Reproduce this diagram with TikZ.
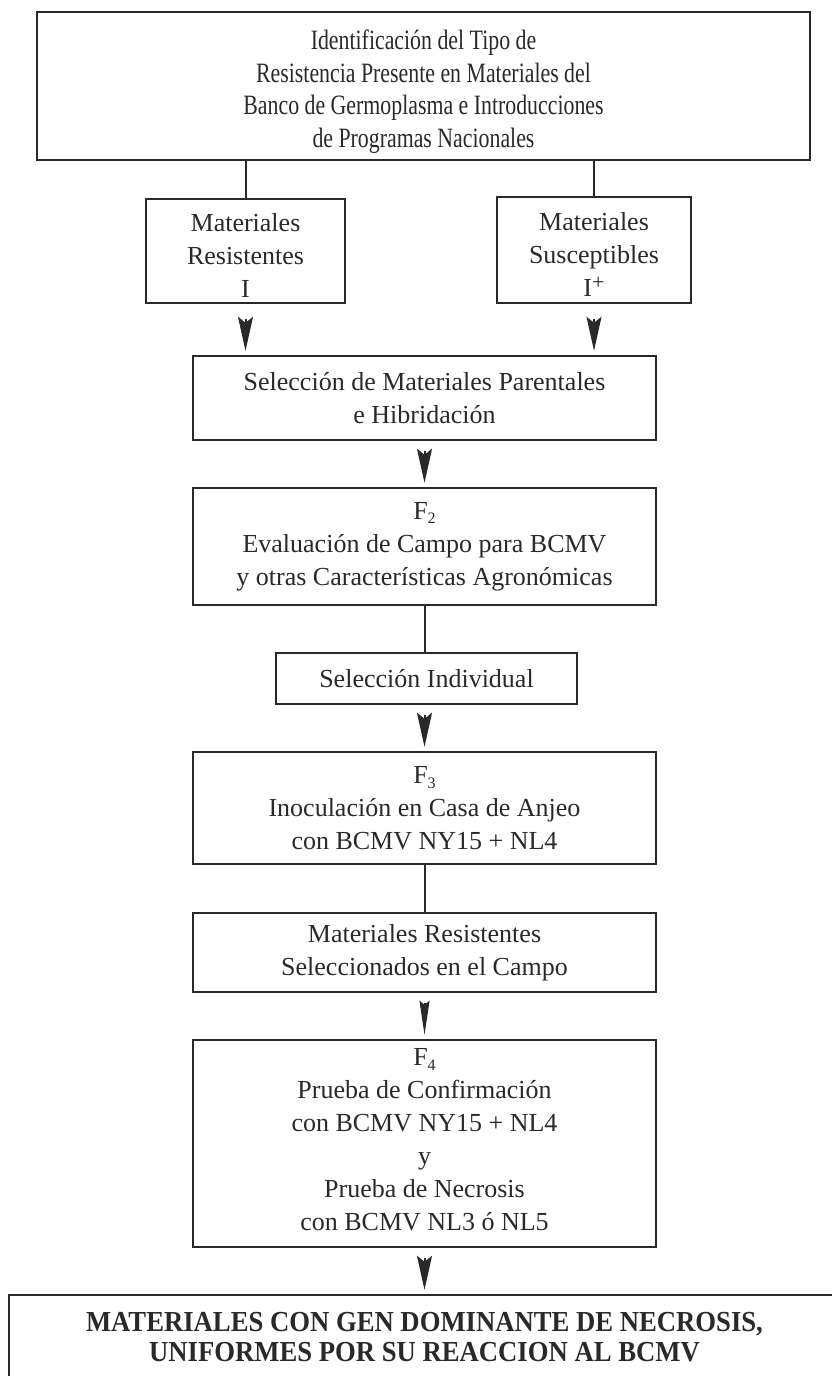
\documentclass[tikz,border=0pt]{standalone}
\usepackage{fontspec}
\setmainfont{Liberation Serif}
\newfontfamily\condfont[FakeStretch=0.78]{Liberation Serif}
\newfontfamily\condbold[FakeStretch=0.92]{Liberation Serif Bold}
\usetikzlibrary{arrows.meta}
\definecolor{ink}{rgb}{0.16,0.16,0.16}
\newcommand{\sub}[1]{\raisebox{-0.4ex}{\fontsize{8}{8}\selectfont #1}}
\newcommand{\sups}[1]{\raisebox{0.55ex}{\fontsize{11}{11}\selectfont #1}}
\begin{document}
\begin{tikzpicture}[x=0.5pt,y=-0.5pt,
  box/.style={draw=ink, line width=1.2pt, inner sep=0pt, align=center, text=ink,
    font=\fontsize{13}{16.5}\selectfont},
  txt/.style={inner sep=0pt, align=center, text=ink, font=\fontsize{13}{16.5}\selectfont},
  dims/.style 2 args={minimum width=#1*0.5pt, minimum height=#2*0.5pt},
  conn/.style={draw=ink, line width=1pt},
  arr/.style={draw=ink, line width=1pt, shorten >=2pt, shorten <=4.7pt,
    -{Stealth[length=17pt, width=7.5pt, inset=3pt]}, fill=ink}
]
\useasboundingbox (0,0) rectangle (831,1376);

\node[box, dims={773}{148}] (top) at (423.5,86) {};
\node[txt, font=\condfont\fontsize{14}{16.3}\selectfont] (toptext) at (423.5,91.5)
  {Identificación del Tipo de\\Resistencia Presente en Materiales del\\Banco de Germoplasma e Introducciones\\de Programas Nacionales};

\node[box, dims={199}{104}] (res) at (245.5,251) {};
\node[txt] (restext) at (245.5,255) {Materiales\\Resistentes\\I};
\node[box, dims={194}{106}] (sus) at (594,250) {};
\node[txt] (sustext) at (594,254) {Materiales\\Susceptibles\\I\sups{+}};

\node[box, dims={463}{84}] (sel) at (424.5,398) {Selección de Materiales Parentales\\e Hibridación};

\node[box, dims={463}{117}] (ftwo) at (424.5,546.5)
  {F\sub{2}\\Evaluación de Campo para BCMV\\y otras Características Agronómicas};

\node[box, dims={301}{51}] (ind) at (426.5,678.5) {Selección Individual};

\node[box, dims={463}{112}] (fthree) at (424.5,808)
  {F\sub{3}\\Inoculación en Casa de Anjeo\\con BCMV NY15 + NL4};

\node[box, dims={463}{79}] (camp) at (424.5,952.5)
  {Materiales Resistentes\\Seleccionados en el Campo};

\node[box, dims={463}{207}] (ffour) at (424.5,1143.5) {};
\node[txt] (ffourtext) at (424.5,1139.5)
  {F\sub{4}\\Prueba de Confirmación\\con BCMV NY15 + NL4\\y\\Prueba de Necrosis\\con BCMV NL3 ó NL5};

\node[box, dims={831}{84}, font=\condbold\fontsize{14.5}{15}\selectfont] (fin) at (424.5,1337)
  {MATERIALES CON GEN DOMINANTE DE NECROSIS,\\UNIFORMES POR SU REACCION AL BCMV};

% connectors
\draw[conn] (res.north |- top.south) -- (res.north);
\draw[conn] (sus.north |- top.south) -- (sus.north);
\draw[arr, shorten <=7.2pt] (res.south) -- (res.south |- sel.north);
\draw[arr, shorten <=7.2pt] (sus.south) -- (sus.south |- sel.north);
\draw[arr] (sel.south) -- (ftwo.north);
\draw[conn] (ftwo.south) -- (ftwo.south |- ind.north);
\draw[arr] (ftwo.south |- ind.south) -- (fthree.north);
\draw[conn] (fthree.south) -- (camp.north);
\draw[arr, -{Stealth[length=17pt, width=5pt, inset=2pt]}] (camp.south) -- (ffour.north);
\draw[arr] (ffour.south) -- (fin.north);
\end{tikzpicture}
\end{document}
